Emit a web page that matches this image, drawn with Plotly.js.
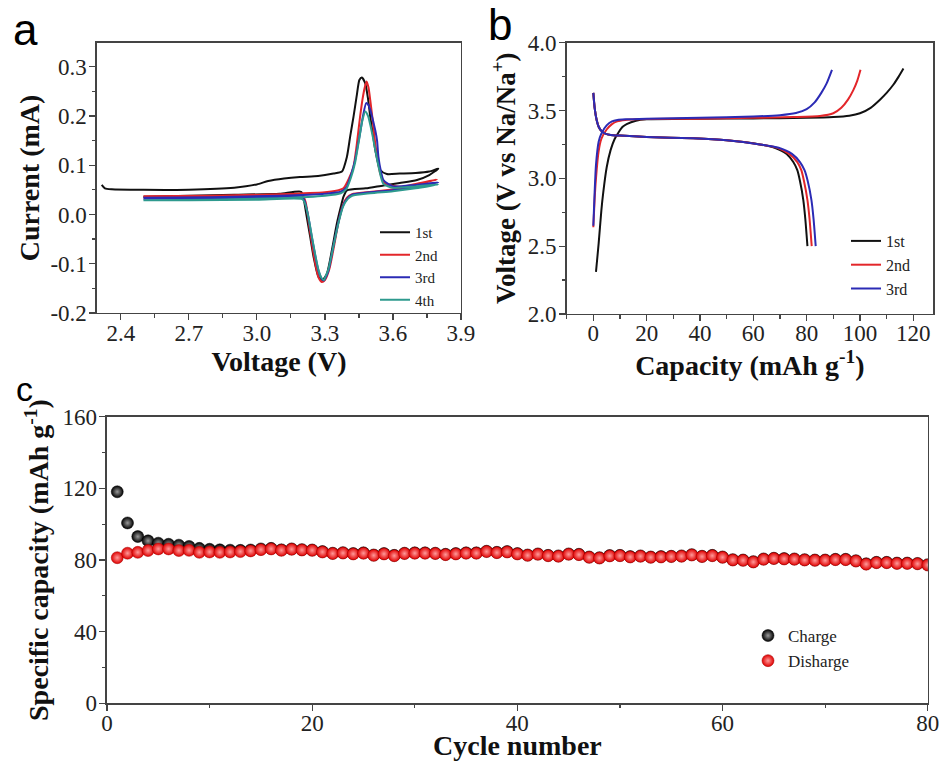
<!DOCTYPE html>
<html><head><meta charset="utf-8">
<script src="https://cdn.plot.ly/plotly-3.0.1.min.js"></script>
<style>html,body{margin:0;padding:0;background:#fff}#chart{width:946px;height:761px}</style>
</head><body><div id="chart"></div>
<script>
// ---------- Panel a: CV curves ----------
const cvV1 = [2.316, 2.33, 2.36, 2.5, 2.7, 2.9, 3.0, 3.05, 3.12, 3.19, 3.27, 3.338, 3.375, 3.397, 3.412, 3.426, 3.44, 3.452, 3.463, 3.478, 3.49, 3.5, 3.511, 3.522, 3.544, 3.573, 3.63, 3.7, 3.76, 3.8, 3.76, 3.706, 3.63, 3.558, 3.48, 3.397, 3.382, 3.37, 3.353, 3.331, 3.309, 3.29, 3.272, 3.25, 3.235, 3.22, 3.205, 3.195, 3.1, 2.9, 2.7, 2.5];
const cvI1 = [0.06, 0.053, 0.051, 0.05, 0.05, 0.054, 0.061, 0.068, 0.073, 0.076, 0.078, 0.083, 0.087, 0.117, 0.16, 0.198, 0.24, 0.273, 0.278, 0.266, 0.235, 0.198, 0.165, 0.131, 0.09, 0.082, 0.083, 0.084, 0.087, 0.093, 0.08, 0.07, 0.064, 0.059, 0.053, 0.049, 0.036, 0.015, -0.018, -0.072, -0.12, -0.133, -0.127, -0.086, -0.045, -0.005, 0.035, 0.046, 0.042, 0.04, 0.038, 0.036];
const cvV2 = [2.5, 2.8, 3.1, 3.3, 3.36, 3.382, 3.405, 3.426, 3.44, 3.455, 3.468, 3.478, 3.484, 3.492, 3.5, 3.511, 3.522, 3.533, 3.544, 3.566, 3.632, 3.7, 3.794, 3.7, 3.632, 3.55, 3.485, 3.42, 3.397, 3.38, 3.36, 3.34, 3.32, 3.3, 3.286, 3.272, 3.26, 3.245, 3.23, 3.215, 3.2, 3.0, 2.7, 2.5];
const cvI2 = [0.037, 0.038, 0.041, 0.045, 0.049, 0.053, 0.072, 0.097, 0.14, 0.198, 0.24, 0.262, 0.27, 0.258, 0.232, 0.19, 0.144, 0.11, 0.083, 0.063, 0.056, 0.062, 0.071, 0.06, 0.053, 0.048, 0.045, 0.041, 0.034, 0.02, -0.015, -0.065, -0.11, -0.133, -0.137, -0.128, -0.105, -0.065, -0.02, 0.025, 0.04, 0.038, 0.036, 0.035];
const cvV3 = [2.5, 2.8, 3.1, 3.3, 3.37, 3.395, 3.415, 3.433, 3.445, 3.455, 3.468, 3.482, 3.492, 3.503, 3.515, 3.522, 3.53, 3.536, 3.546, 3.558, 3.6, 3.7, 3.8, 3.7, 3.6, 3.5, 3.42, 3.4, 3.38, 3.36, 3.335, 3.315, 3.3, 3.296, 3.285, 3.272, 3.258, 3.242, 3.225, 3.21, 3.2, 3.0, 2.7, 2.5];
const cvI3 = [0.034, 0.035, 0.038, 0.042, 0.046, 0.055, 0.08, 0.11, 0.14, 0.165, 0.2, 0.226, 0.222, 0.208, 0.185, 0.171, 0.15, 0.117, 0.09, 0.07, 0.057, 0.06, 0.065, 0.055, 0.049, 0.045, 0.04, 0.033, 0.018, -0.015, -0.07, -0.115, -0.131, -0.134, -0.13, -0.115, -0.085, -0.045, 0.0, 0.028, 0.035, 0.034, 0.033, 0.032];
const cvV4 = [2.5, 2.8, 3.1, 3.3, 3.37, 3.395, 3.415, 3.433, 3.45, 3.465, 3.478, 3.49, 3.5, 3.511, 3.522, 3.54, 3.558, 3.6, 3.7, 3.8, 3.7, 3.6, 3.5, 3.42, 3.4, 3.38, 3.36, 3.335, 3.315, 3.3, 3.296, 3.285, 3.272, 3.258, 3.242, 3.225, 3.21, 3.2, 3.0, 2.7, 2.5];
const cvI4 = [0.029, 0.03, 0.033, 0.038, 0.043, 0.052, 0.075, 0.105, 0.15, 0.19, 0.209, 0.2, 0.182, 0.158, 0.131, 0.09, 0.062, 0.054, 0.057, 0.061, 0.053, 0.047, 0.043, 0.038, 0.031, 0.016, -0.017, -0.07, -0.112, -0.129, -0.133, -0.129, -0.113, -0.083, -0.043, 0.0, 0.025, 0.031, 0.03, 0.029, 0.029];
const cvTickVals = [-0.2, -0.1, 0.0, 0.1, 0.2, 0.3];
const cvTickText = ['-0.2', '-0.1', '0.0', '0.1', '0.2', '0.3'];

// ---------- Panel b: charge / discharge profiles ----------
const chgCap1 = [1, 2, 3, 3.75, 5, 6.5, 8, 9.5, 11, 12.5, 16, 20, 40, 60, 80, 90, 96, 100, 104, 107.5, 110, 112.5, 114.5, 116.3];
const chgV1   = [2.31, 2.52, 2.76, 2.9, 3.08, 3.21, 3.29, 3.34, 3.38, 3.40, 3.425, 3.435, 3.44, 3.442, 3.446, 3.452, 3.462, 3.48, 3.52, 3.58, 3.63, 3.69, 3.75, 3.81];
const chgCap2 = [0, 0.5, 1, 2, 3, 5, 7, 9, 12, 16, 20, 40, 60, 75, 85, 90, 93, 95.5, 97.5, 99, 100.2];
const chgV2   = [2.64, 2.85, 3.0, 3.2, 3.29, 3.36, 3.4, 3.42, 3.43, 3.435, 3.437, 3.44, 3.446, 3.452, 3.46, 3.48, 3.52, 3.58, 3.65, 3.72, 3.8];
const chgCap3 = [0, 0.5, 1, 2, 3, 5, 7, 9, 12, 20, 40, 60, 70, 76, 80, 83, 85.5, 87.5, 89.5];
const chgV3   = [2.65, 2.9, 3.1, 3.27, 3.33, 3.39, 3.42, 3.43, 3.435, 3.44, 3.447, 3.456, 3.466, 3.482, 3.51, 3.56, 3.63, 3.7, 3.8];
const disCap1 = [0, 0.5, 1.25, 2, 3, 4.5, 6.5, 10, 20, 37.5, 50, 62.5, 68, 72.5, 75, 76.5, 77.5, 78.75, 79.5, 80.3];
const disV1   = [3.63, 3.52, 3.43, 3.38, 3.35, 3.33, 3.32, 3.315, 3.305, 3.295, 3.28, 3.25, 3.225, 3.18, 3.12, 3.06, 2.98, 2.84, 2.7, 2.5];
const disCap2 = [0, 0.5, 1.25, 2, 3, 4.5, 6.5, 10, 20, 37.5, 50, 62.5, 69, 73.5, 76.5, 78, 79, 80.3, 81.1, 81.9];
const disV2   = [3.63, 3.52, 3.43, 3.38, 3.35, 3.33, 3.32, 3.315, 3.305, 3.295, 3.28, 3.25, 3.225, 3.18, 3.12, 3.06, 2.98, 2.84, 2.7, 2.5];
const disCap3 = [0, 0.5, 1.25, 2, 3, 4.5, 6.5, 10, 20, 37.5, 50, 62.5, 69.5, 74.5, 77.5, 79.2, 80.4, 81.8, 82.6, 83.4];
const disV3   = [3.63, 3.52, 3.43, 3.38, 3.35, 3.33, 3.32, 3.315, 3.305, 3.295, 3.28, 3.25, 3.225, 3.18, 3.12, 3.06, 2.98, 2.84, 2.7, 2.5];

// ---------- Panel c: cycling ----------
const cycles = Array.from({length: 80}, (_, i) => i + 1);
const chargeCap = [118.1, 100.7, 93.1, 90.7, 89.4, 88.8, 88.3, 87.6,
  86.5, 86.0, 85.7, 85.5, 85.4, 85.6, 86.2, 86.5, 85.7, 86.2, 85.8, 85.6,
  84.7, 83.8, 84.1, 83.6, 84.0, 82.8, 83.6, 82.6, 83.8, 84.0, 84.0, 83.8, 83.2, 83.6, 84.0,
  84.0, 84.9, 84.3, 84.7, 83.6, 82.8, 83.4, 82.6, 82.3, 83.4, 83.2, 81.7, 81.3, 82.5, 82.6,
  81.9, 82.3, 81.7, 81.9, 82.1, 82.3, 83.0, 82.1, 82.6, 81.7, 80.2, 80.0, 79.1, 80.6, 81.0,
  80.8, 80.6, 80.2, 80.0, 80.0, 80.4, 80.4, 79.6, 77.9, 78.7, 78.7, 78.3, 78.3, 78.1, 77.4];
const dischargeCap = [81.3, 83.8, 84.3, 85.3, 86.2, 86.2, 85.3, 85.4, 84.3, 84.5, 84.3, 84.5, 84.7, 85.1, 85.8, 86.2, 85.4, 86.0, 85.6, 85.4,
  84.5, 83.6, 83.9, 83.4, 83.8, 82.6, 83.4, 82.4, 83.6, 83.8, 83.8, 83.6, 83.0, 83.4, 83.8,
  83.8, 84.7, 84.1, 84.5, 83.4, 82.6, 83.2, 82.4, 82.1, 83.2, 83.0, 81.5, 81.1, 82.3, 82.4,
  81.7, 82.1, 81.5, 81.7, 81.9, 82.1, 82.8, 81.9, 82.4, 81.5, 80.0, 79.8, 78.9, 80.4, 80.8,
  80.6, 80.4, 80.0, 79.8, 79.8, 80.2, 80.2, 79.4, 77.7, 78.5, 78.5, 78.1, 78.1, 77.9, 77.2];

const serif = 'Liberation Serif';
const sans = 'Liberation Sans';
const cBlack = '#111111', cRed = '#e3262a', cBlue = '#2b2bb5', cTeal = '#2e9a8e';

function line(x, y, color, name, xa, ya, leg) {
  return {x: x, y: y, mode: 'lines', type: 'scatter', name: name, xaxis: xa, yaxis: ya, legend: leg,
    line: {color: color, width: 2, shape: 'spline', smoothing: 0.6}};
}

const traces = [
  line(cvV1, cvI1, cBlack, '1st', 'x', 'y', 'legend'),
  line(cvV2, cvI2, cRed, '2nd', 'x', 'y', 'legend'),
  line(cvV3, cvI3, cBlue, '3rd', 'x', 'y', 'legend'),
  line(cvV4, cvI4, cTeal, '4th', 'x', 'y', 'legend'),
  line(chgCap1, chgV1, cBlack, '1st', 'x2', 'y2', 'legend2'),
  Object.assign(line(disCap1, disV1, cBlack, '1st', 'x2', 'y2', 'legend2'), {showlegend: false}),
  line(chgCap2, chgV2, cRed, '2nd', 'x2', 'y2', 'legend2'),
  Object.assign(line(disCap2, disV2, cRed, '2nd', 'x2', 'y2', 'legend2'), {showlegend: false}),
  line(chgCap3, chgV3, cBlue, '3rd', 'x2', 'y2', 'legend2'),
  Object.assign(line(disCap3, disV3, cBlue, '3rd', 'x2', 'y2', 'legend2'), {showlegend: false}),
  {x: cycles, y: chargeCap, mode: 'markers', type: 'scatter', name: 'Charge', xaxis: 'x3', yaxis: 'y3', legend: 'legend3',
    marker: {size: 12, color: '#000000', gradient: {type: 'radial', color: '#9a9a9a'}, line: {color: '#000', width: 0.5}}},
  {x: cycles, y: dischargeCap, mode: 'markers', type: 'scatter', name: 'Disharge', xaxis: 'x3', yaxis: 'y3', legend: 'legend3',
    marker: {size: 12, color: '#e00000', gradient: {type: 'radial', color: '#ff9a9a'}, line: {color: '#a00000', width: 0.5}}}
];

const axCol = '#444444';
const tickFont = {family: serif, size: 23, color: '#222222'};
function minorTicks(d) { return {ticks: 'outside', ticklen: 3.5, tickwidth: 1.2, tickcolor: axCol, dtick: d, showgrid: false}; }
function ax(extra) {
  return Object.assign({
    showline: true, linecolor: axCol, linewidth: 1.5, mirror: true, ticks: 'outside', ticklen: 6, tickwidth: 1.2, tickcolor: axCol,
    showgrid: false, zeroline: false, automargin: false, tickfont: tickFont
  }, extra);
}
const titleFont = {family: serif, size: 28, color: '#111111', weight: 'bold'};

const layout = {
  width: 946, height: 761, margin: {l: 0, r: 0, t: 0, b: 0},
  font: {family: serif, size: 23, color: '#222222'},
  paper_bgcolor: '#fff', plot_bgcolor: '#fff', showlegend: true,
  xaxis: ax({domain: [0.1025, 0.4873], range: [2.295, 3.9], tick0: 2.4, dtick: 0.3, tickformat: '.1f', anchor: 'y', ticklabelstandoff: -7,
    minor: Object.assign(minorTicks(0.15), {tick0: 2.4}),
    title: {text: 'Voltage (V)', font: titleFont, standoff: 0}}),
  yaxis: ax({domain: [0.5887, 0.9435], range: [-0.2, 0.348], tickmode: 'array', tickvals: cvTickVals, ticktext: cvTickText, anchor: 'x', ticklabelstandoff: -2,
    minor: minorTicks(0.05),
    title: {text: 'Current (mA)', font: titleFont, standoff: 2}}),
  xaxis2: ax({domain: [0.599, 0.9863], range: [-10, 127.4], tick0: 0, dtick: 20, anchor: 'y2', ticklabelstandoff: -8,
    minor: minorTicks(10),
    title: {text: 'Capacity (mAh g<sup>-1</sup>)', font: titleFont, standoff: 0}}),
  yaxis2: ax({domain: [0.5874, 0.9439], range: [2.0, 4.0], dtick: 0.5, tickformat: '.1f', anchor: 'x2', ticklabelstandoff: -2,
    minor: minorTicks(0.25),
    title: {text: 'Voltage (V vs Na/Na<sup>+</sup>)', font: {family: serif, size: 27, color: '#111111', weight: 'bold'}, standoff: 4}}),
  xaxis3: ax({domain: [0.1131, 0.9807], range: [0, 80], dtick: 20, anchor: 'y3', ticklabelstandoff: -7,
    minor: minorTicks(10),
    title: {text: 'Cycle number', font: titleFont, standoff: 2}}),
  yaxis3: ax({domain: [0.0758, 0.4524], range: [0, 160], dtick: 40, anchor: 'x3', ticklabelstandoff: -2,
    minor: minorTicks(20),
    title: {text: 'Specific capacity (mAh g<sup>-1</sup>)', font: titleFont, standoff: 5}}),
  legend: {x: 375/946, y: 1 - 216/761, xanchor: 'left', yanchor: 'top', bgcolor: 'rgba(0,0,0,0)',
    font: {family: serif, size: 15, color: '#222222'}, tracegroupgap: 0, itemwidth: 30},
  legend2: {x: 846/946, y: 1 - 224/761, xanchor: 'left', yanchor: 'top', bgcolor: 'rgba(0,0,0,0)',
    font: {family: serif, size: 16, color: '#222222'}, tracegroupgap: 0, itemwidth: 30},
  legend3: {x: 748/946, y: 1 - 618/761, xanchor: 'left', yanchor: 'top', bgcolor: 'rgba(0,0,0,0)',
    font: {family: serif, size: 17, color: '#222222'}, tracegroupgap: 0, itemwidth: 30},
  annotations: [
    {text: 'a', x: 25/946, y: 1 - 30/761, xref: 'paper', yref: 'paper', xanchor: 'center', yanchor: 'middle', showarrow: false, font: {family: sans, size: 44, color: '#000'}},
    {text: 'b', x: 500/946, y: 1 - 25/761, xref: 'paper', yref: 'paper', xanchor: 'center', yanchor: 'middle', showarrow: false, font: {family: sans, size: 44, color: '#000'}},
    {text: 'c', x: 24/946, y: 1 - 389/761, xref: 'paper', yref: 'paper', xanchor: 'center', yanchor: 'middle', showarrow: false, font: {family: sans, size: 34, color: '#000'}}
  ]
};

Plotly.newPlot('chart', traces, layout, {displayModeBar: false, staticPlot: true});
</script>
</body></html>
